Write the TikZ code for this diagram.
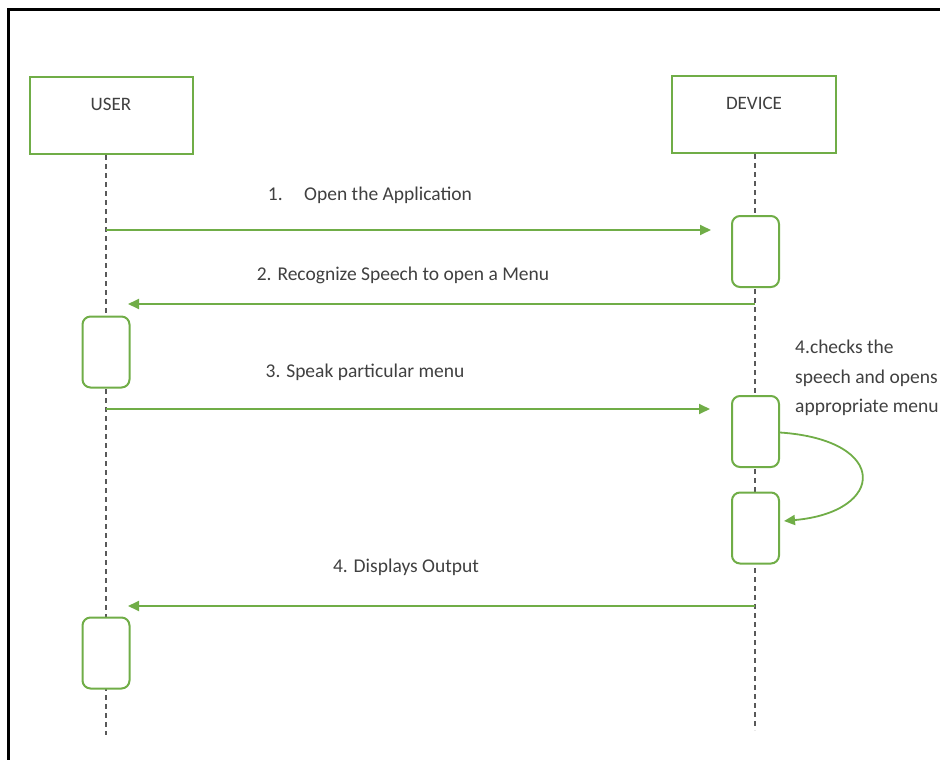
\documentclass[tikz,border=0pt]{standalone}
\usepackage{fontspec}
\setmainfont{Carlito}
\usetikzlibrary{arrows.meta, calc}
\definecolor{seqgreen}{rgb}{0.44, 0.68, 0.28}
\definecolor{seqtext}{rgb}{0.25, 0.25, 0.25}

\begin{document}
\begin{tikzpicture}[x=1pt, y=-1pt]
		\useasboundingbox (0,0) rectangle (940,760);
		\tikzset{msg/.style={-{Triangle[length=11pt,width=10pt]}, color=seqgreen, line width=1.8pt},
			lifeline/.style={dashed, color=black!65, line width=1.1pt, dash pattern=on 5pt off 4pt},
			lbl/.style={text=seqtext, font=\fontsize{19.5}{23}\selectfont, inner sep=0}}
		
		% frame
		\draw[line width=3pt] (8,760) -- (8,10) -- (940,10);
		
		\begin{scope}[every node/.style={draw=seqgreen, line width=2pt, fill=white, text=seqtext, font=\fontsize{19}{22}\selectfont}]
		\node[minimum width=163pt, minimum height=77pt, text depth=22pt] (user) at (111,115.5) {USER};
		\node[minimum width=164pt, minimum height=77pt, text depth=22pt] (device) at (754,114.5) {DEVICE};
		\end{scope}
		
		% lifelines
		\coordinate (ubot) at (106,735);
		\coordinate (dbot) at (755,730);
		\draw[lifeline] (user.south -| ubot) -- (ubot);
		\draw[lifeline] (device.south -| dbot) -- (dbot);
		
		\begin{scope}[every node/.style={draw=seqgreen, line width=2pt, fill=white, rounded corners=8pt, minimum width=47pt, minimum height=71pt}]
		\node (dev1) at (755.5,251.5) {};
		\node (dev2) at (755.5,431.5) {};
		\node (dev3) at (755.5,528) {};
		\node (usr1) at (106,352) {};
		\node (usr2) at (106,653) {};
		\end{scope}
		
		% messages
		\coordinate (m1a) at (106,230);
		\coordinate (m1b) at (755,230);
		\coordinate (m2a) at (755,304);
		\coordinate (m2b) at (106,304);
		\coordinate (m3a) at (106,409);
		\coordinate (m3b) at (755,409);
		\coordinate (m4a) at (755,606);
		\coordinate (m4b) at (106,606);
		
		\draw[msg, shorten >=44pt] (m1a) -- (m1b);
		\draw[msg, shorten >=22pt] (m2a) -- (m2b);
		\draw[msg, shorten >=45pt] (m3a) -- (m3b);
		\draw[msg, shorten >=22pt] (m4a) -- (m4b);
		\draw[msg] ([yshift=-1pt]dev2.east) .. controls (890,440) and (886,512) .. ([xshift=4pt, yshift=7pt]dev3.east);
		
		\node[lbl] (t1) at (370,195) {1.\hspace{1.1em}Open the Application};
		\node[lbl] (t2) at (403,275) {2. Recognize Speech to open a Menu};
		\node[lbl] (t3) at (365,372) {3. Speak particular menu};
		\node[lbl, anchor=north west, align=left, font=\fontsize{19.5}{29.5}\selectfont] (t4) at (795,340) {4.checks the\\speech and opens\\appropriate menu};
		\node[lbl] (t5) at (406,567) {4. Displays Output};
\end{tikzpicture}
\end{document}
